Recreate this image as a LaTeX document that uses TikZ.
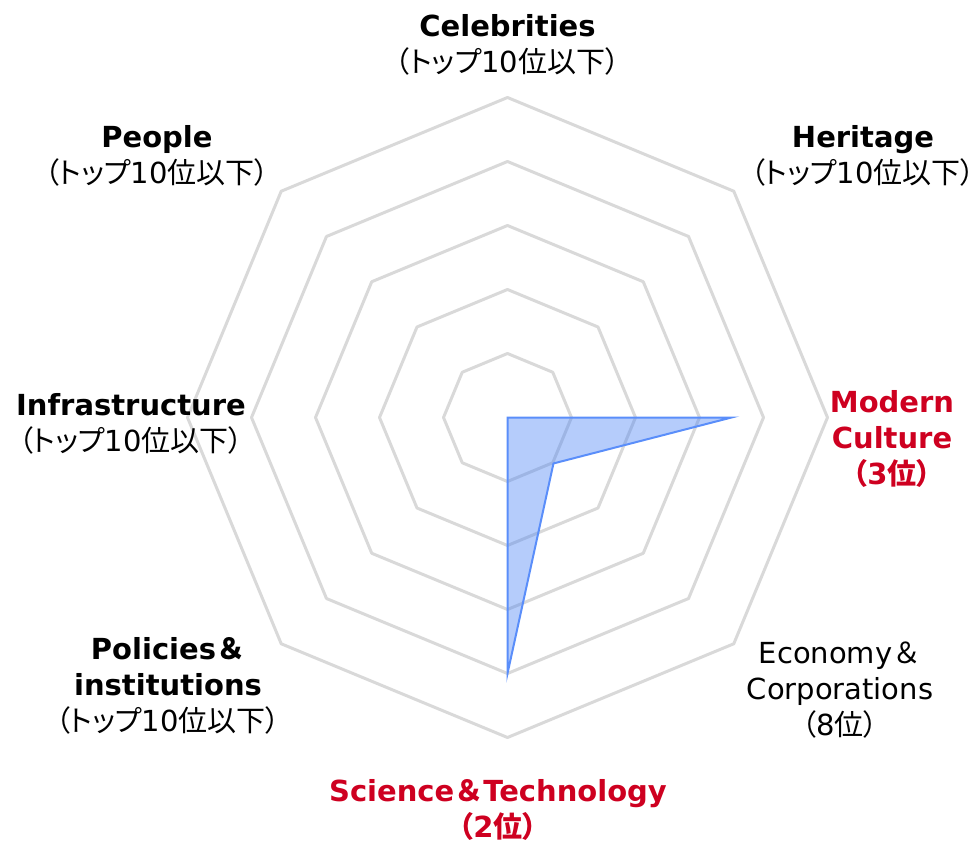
\documentclass[tikz,border=0pt]{standalone}
\usepackage{fontspec}
\usetikzlibrary{calc}
\setmainfont{DejaVu Sans}
\newfontfamily\cjk[RawFeature=+palt]{Noto Sans CJK JP}
\newfontfamily\cjkfw{Noto Sans CJK JP}
\newcommand\jp[1]{{\cjk #1}}
\newcommand\amp{{\cjkfw ＆}}
\definecolor{gridgray}{RGB}{217,217,217}
\definecolor{accred}{RGB}{206,0,32}
\definecolor{dataedge}{RGB}{90,142,250}
\definecolor{datafill}{RGB}{70,128,245}
\begin{document}
\begin{tikzpicture}[x=1pt,y=-1pt,
  ring/.style={draw=gridgray,line width=3pt,line join=round},
  lab/.style={align=center,anchor=base,inner sep=0pt,font=\fontsize{29}{36}\selectfont},
  hot/.style={lab,text=accred,font=\fontsize{29}{36}\selectfont\bfseries},
  series/.style={draw=dataedge,line width=2pt,fill=datafill,fill opacity=0.4,line join=miter}]
\useasboundingbox (0,0) rectangle (978,845);
\coordinate (C) at (507.5,417.5);
% grid rings
\foreach \k in {1,...,5}{
  \draw[ring] ($(C)+(90:64*\k)$) \foreach \a in {135,180,...,450}{ -- ($(C)+(\a:64*\k)$)} -- cycle;
}
% data
\coordinate (pMod) at ($(C)+(0:224)$);
\coordinate (pEco) at ($(C)+(45:65)$);
\coordinate (pSci) at ($(C)+(90:256)$);
\draw[series] (C) -- (pMod) -- (pEco) -- (pSci) -- cycle;
% labels (anchor = baseline of last line)
\node[lab] (cel) at (507.5,73) {\textbf{Celebrities}\\\jp{（トップ}10\jp{位以下）}};
\node[lab] (her) at (863,184) {\textbf{Heritage}\\\jp{（トップ}10\jp{位以下）}};
\node[lab] (peo) at (157,184) {\textbf{People}\\\jp{（トップ}10\jp{位以下）}};
\node[lab] (inf) at (131,451) {\textbf{Infrastructure}\\\jp{（トップ}10\jp{位以下）}};
\node[hot] (mod) at (892,484) {Modern\\Culture\\\jp{（}3\jp{位）}};
\node[lab] (eco) at (840,735) {Economy\amp\\Corporations\\\jp{（}8\jp{位）}};
\node[lab] (pol) at (168,731) {\textbf{Policies\amp}\\\textbf{institutions}\\\jp{（トップ}10\jp{位以下）}};
\node[hot] (sci) at (498,837) {Science\amp Technology\\\jp{（}2\jp{位）}};
\end{tikzpicture}
\end{document}
